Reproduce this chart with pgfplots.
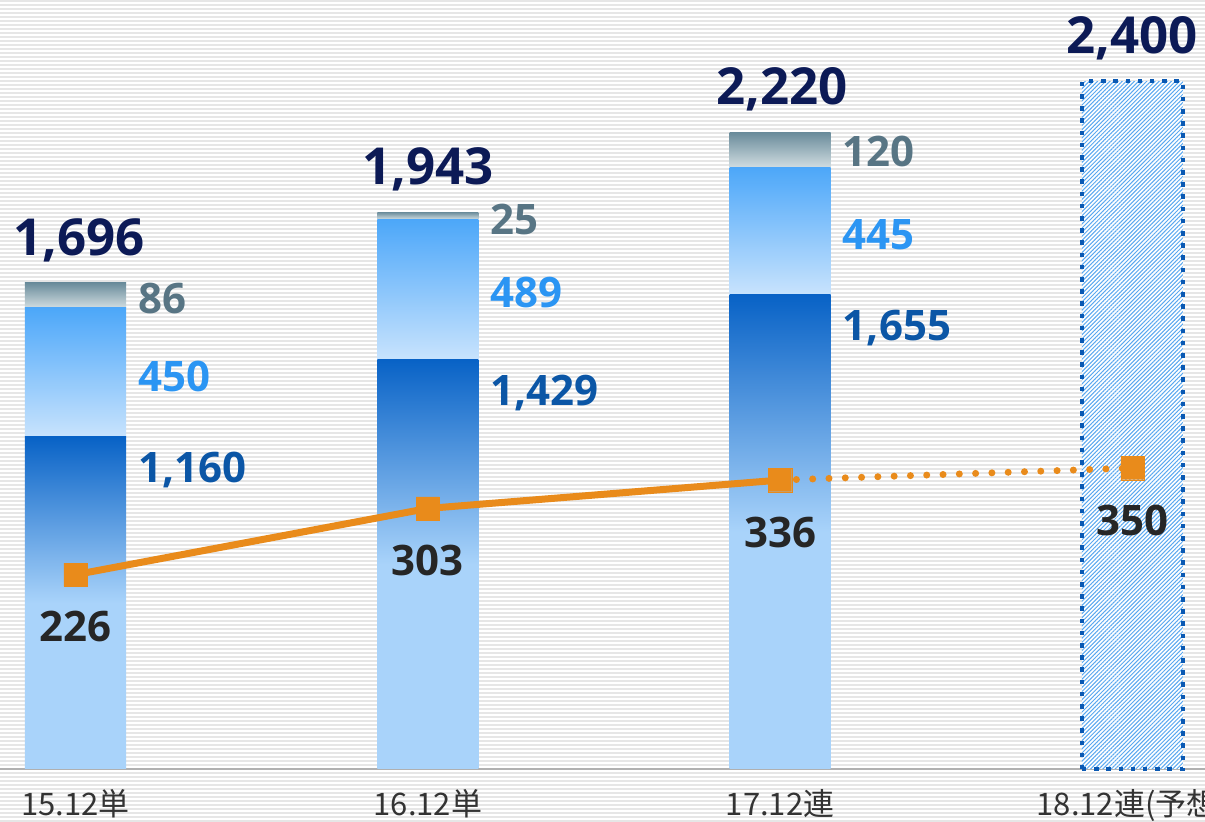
\documentclass[border=0pt]{standalone}
\usepackage{fontspec}
\setmainfont{Noto Sans}
\newfontfamily\cjk{Noto Sans CJK JP}
\IfFontExistsTF{Noto Sans Bold}{\newfontfamily\numfont{Noto Sans Bold}}{%
  \IfFontExistsTF{Open Sans Bold}{\newfontfamily\numfont{Open Sans Bold}}{%
    \newfontfamily\numfont{Noto Sans}[FakeBold=2.5]}}
\usepackage{pgfplots}
\pgfplotsset{compat=1.18}
\usetikzlibrary{patterns.meta}

\definecolor{stripe}{HTML}{E6E6E6}
\definecolor{darkb}{HTML}{0862C6}
\definecolor{lightb}{HTML}{A9D3FA}
\definecolor{midtop}{HTML}{4CA7F9}
\definecolor{midbot}{HTML}{C8E3FD}
\definecolor{toptop}{HTML}{6A8C9B}
\definecolor{topbot}{HTML}{D0DCE0}
\definecolor{hatch}{HTML}{5AA8F0}
\definecolor{fcborder}{HTML}{0A59B3}
\definecolor{orangeL}{HTML}{E98B1B}
\definecolor{totc}{HTML}{0C1A56}
\definecolor{topc}{HTML}{587584}
\definecolor{midc}{HTML}{2B95F3}
\definecolor{botc}{HTML}{0B56A6}
\definecolor{linec}{HTML}{262626}
\definecolor{tickc}{HTML}{333333}
\definecolor{axisc}{HTML}{B0B0B0}

% rounded square mark
\pgfdeclareplotmark{rsq}{%
  \pgfsetcornersarced{\pgfqpoint{2.2pt}{2.2pt}}%
  \pgfpathmoveto{\pgfqpoint{0pt}{-\pgfplotmarksize}}%
  \pgfpathlineto{\pgfqpoint{\pgfplotmarksize}{-\pgfplotmarksize}}%
  \pgfpathlineto{\pgfqpoint{\pgfplotmarksize}{\pgfplotmarksize}}%
  \pgfpathlineto{\pgfqpoint{-\pgfplotmarksize}{\pgfplotmarksize}}%
  \pgfpathlineto{\pgfqpoint{-\pgfplotmarksize}{-\pgfplotmarksize}}%
  \pgfpathclose
  \pgfusepathqfillstroke}

% each bar: three stacked segments (bottom, middle, top)
\pgfplotstableread{
x seg1 seg2 seg3
0 1160 450 86
}\barA
\pgfplotstableread{
x seg1 seg2 seg3
1 1429 489 25
}\barB
\pgfplotstableread{
x seg1 seg2 seg3
2 1655 445 120
}\barC

\pgfplotstableread{
x y
3 2400
}\forecast

\pgfplotstableread{
x y
0 226
1 303
2 336
}\actual

\pgfplotstableread{
x y
2 336
3 350
}\future

\pgfplotsset{
  mybase/.style={width=602.5pt,height=384.5pt,scale only axis,
    xmin=-0.2143,xmax=3.206,ymin=0,ymax=2683,clip=false},
  stackax/.style={mybase, hide axis, ybar stacked, bar width=50.5pt},
  seg1/.style={draw=none, top color=darkb, bottom color=lightb, middle color=lightb},
  seg2/.style={draw=none, top color=midtop, bottom color=midbot},
  seg3/.style={draw=none, top color=toptop, bottom color=topbot},
}
\tikzset{
  seglab/.style={inner sep=0pt, anchor=west, font=\numfont\fontsize{21}{25}\selectfont},
  totlab/.style={inner sep=0pt, text=totc, font=\numfont\fontsize{25.5}{30}\selectfont},
  linlab/.style={inner sep=0pt, yshift=-26pt, text=linec, font=\numfont\fontsize{21}{25}\selectfont},
}

\begin{document}
\begin{tikzpicture}
\useasboundingbox (0,-26.5pt) rectangle (602.5pt,384.5pt);
\clip (0,-26.5pt) rectangle (602.5pt,384.5pt);
\fill[white] (0,-26.5pt) rectangle (602.5pt,384.5pt);
\foreach \i in {0,...,206} {
  \fill[stripe] (0,-26.5pt+\i*2pt) rectangle ++(602.5pt,1pt);
}

% axis line and category labels
\begin{axis}[mybase,
  axis x line*=bottom, axis y line=none,
  x axis line style={draw=axisc, line width=1pt},
  xtick={0,1,2,3},
  xticklabels={15.12単,16.12単,17.12連,18.12連(予想)},
  major tick length=0pt,
  xticklabel style={font=\cjk\fontsize{15.5}{18}\selectfont, text=tickc, anchor=base, yshift=-23.5pt},
  ytick=\empty,
]
\addplot[draw=none, forget plot] coordinates {(0,0)};
\end{axis}

\begin{axis}[stackax]
\addplot[seg1] table[x=x,y=seg1] {\barA};
\addplot[seg2] table[x=x,y=seg2] {\barA};
\addplot[seg3] table[x=x,y=seg3] {\barA};
\end{axis}
\begin{axis}[stackax]
\addplot[seg1] table[x=x,y=seg1] {\barB};
\addplot[seg2] table[x=x,y=seg2] {\barB};
\addplot[seg3] table[x=x,y=seg3] {\barB};
\end{axis}
\begin{axis}[stackax]
\addplot[seg1] table[x=x,y=seg1] {\barC};
\addplot[seg2] table[x=x,y=seg2] {\barC};
\addplot[seg3] table[x=x,y=seg3] {\barC};
\end{axis}

\begin{axis}[mybase, hide axis]
\addplot[ybar, bar width=50.5pt, fill=white, draw=none] table[x=x,y=y] {\forecast};
\addplot[ybar, bar width=50.5pt, pattern={Lines[angle=45,distance=1.45pt,line width=0.5pt]}, pattern color=hatch,
  draw=fcborder, line width=2.25pt, dash pattern=on 2.25pt off 3.85pt] table[x=x,y=y] {\forecast};

\node[seglab, text=topc] at (axis cs:0.177,1643) {86};
\node[seglab, text=midc] at (axis cs:0.177,1371) {450};
\node[seglab, text=botc] at (axis cs:0.177,1043) {1,160};
\node[seglab, text=topc] at (axis cs:1.177,1916) {25};
\node[seglab, text=midc] at (axis cs:1.177,1661) {489};
\node[seglab, text=botc] at (axis cs:1.177,1312) {1,429};
\node[seglab, text=topc] at (axis cs:2.177,2153) {120};
\node[seglab, text=midc] at (axis cs:2.177,1863) {445};
\node[seglab, text=botc] at (axis cs:2.177,1539) {1,655};
\node[totlab] at (axis cs:0.01,1846) {1,696};
\node[totlab] at (axis cs:1,2093) {1,943};
\node[totlab] at (axis cs:2.005,2370) {2,220};
\node[totlab] at (axis cs:3,2550) {2,400};
\end{axis}

\begin{axis}[mybase, hide axis, ymax=894.33]
\addplot[orangeL, line width=3.5pt, dash pattern=on 0pt off 8.15pt, line cap=round, mark=rsq, mark indices={2},
  mark size=5.8pt, mark options={solid, fill=orangeL, draw=orangeL, line width=0.1pt}] table[x=x,y=y] {\future};
\addplot[orangeL, line width=3.5pt, mark=rsq, mark size=5.8pt,
  mark options={fill=orangeL, draw=orangeL, line width=0.1pt}] table[x=x,y=y] {\actual};
\node[linlab] at (axis cs:0,226) {226};
\node[linlab] at (axis cs:1,303) {303};
\node[linlab] at (axis cs:2,336) {336};
\node[linlab] at (axis cs:3,350) {350};
\end{axis}
\end{tikzpicture}
\end{document}
